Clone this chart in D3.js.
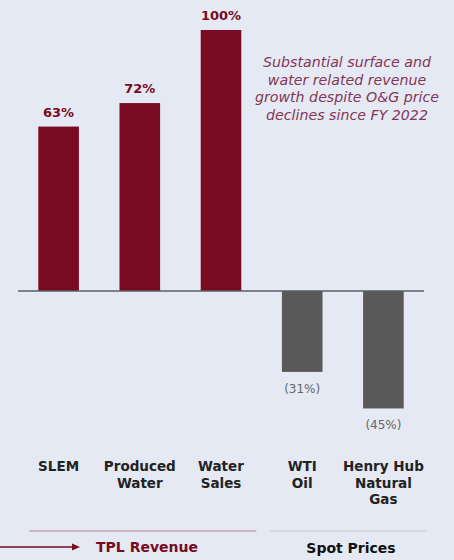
<!DOCTYPE html>
<html><head><meta charset="utf-8">
<script src="https://cdn.jsdelivr.net/npm/d3@7"></script>
<style>
html,body{margin:0;padding:0;background:#e4e9f3;}
svg{display:block;}
</style></head>
<body>
<script>
const categories = [["SLEM"],["Produced","Water"],["Water","Sales"],["WTI","Oil"],["Henry Hub","Natural","Gas"]];
const values = [63, 72, 100, -31, -45];
const valueLabels = ["63%","72%","100%","(31%)","(45%)"];
const groupNames = ["TPL Revenue","Spot Prices"];
const groupOf = [0,0,0,1,1];
const note = ["Substantial surface and","water related revenue","growth despite O&G price","declines since FY 2022"];

const W = 454, H = 560;
const red = "#780a22", grey = "#595959";
const font = "'DejaVu Sans', sans-serif";
const svg = d3.select("body").append("svg").attr("width", W).attr("height", H);
svg.append("rect").attr("width", W).attr("height", H).attr("fill", "#e4e9f3");

const x = d3.scaleBand().domain(d3.range(values.length)).range([18, 424]).paddingInner(0.5).paddingOuter(0.25);
const y = d3.scaleLinear().domain([0, 100]).range([291, 30]);

svg.selectAll("rect.bar").data(values).join("rect").attr("class","bar")
  .attr("x", (d,i) => x(i))
  .attr("width", x.bandwidth())
  .attr("y", d => Math.min(y(d), y(0)))
  .attr("height", d => Math.abs(y(d) - y(0)))
  .attr("fill", (d,i) => groupOf[i] === 0 ? red : grey);

// axis line
svg.append("line").attr("x1", 18).attr("x2", 424).attr("y1", y(0)).attr("y2", y(0))
  .attr("stroke", "#5a5f66").attr("stroke-width", 1.5);

// value labels
svg.selectAll("text.val").data(values).join("text").attr("class","val")
  .attr("x", (d,i) => x(i) + x.bandwidth()/2)
  .attr("y", d => d >= 0 ? y(d) - 10 : y(d) + 21)
  .attr("text-anchor", "middle")
  .attr("font-family", font)
  .attr("font-size", d => d >= 0 ? 13 : 12)
  .attr("font-weight", d => d >= 0 ? "bold" : "normal")
  .attr("fill", d => d >= 0 ? red : "#666")
  .text((d,i) => valueLabels[i]);

// category labels
const cat = svg.selectAll("text.cat").data(categories).join("text").attr("class","cat")
  .attr("text-anchor", "middle")
  .attr("font-family", font).attr("font-size", 13.5).attr("font-weight", "bold").attr("fill", "#222");
cat.each(function(lines, i) {
  d3.select(this).selectAll("tspan").data(lines).join("tspan")
    .attr("x", x(i) + x.bandwidth()/2)
    .attr("y", (l, j) => 471 + j * 16.5)
    .text(l => l);
});

// group lines and labels
const groupLines = [
  {x1: x(0) - 9, x2: x(2) + x.bandwidth() + 15, color: "#c7a4ad"},
  {x1: x(3) - 12, x2: x(4) + x.bandwidth() + 23, color: "#cfd2d8"}
];
groupLines.forEach(g => {
  svg.append("line").attr("x1", g.x1).attr("x2", g.x2).attr("y1", 531).attr("y2", 531)
    .attr("stroke", g.color).attr("stroke-width", 1.5);
});
svg.append("text").attr("x", 147).attr("y", 552).attr("text-anchor","middle")
  .attr("font-family", font).attr("font-size", 14).attr("font-weight","bold").attr("fill", red).text(groupNames[0]);
svg.append("text").attr("x", 351).attr("y", 553).attr("text-anchor","middle")
  .attr("font-family", font).attr("font-size", 14).attr("font-weight","bold").attr("fill", "#111").text(groupNames[1]);

// arrow
svg.append("line").attr("x1", 0).attr("x2", 74).attr("y1", 547).attr("y2", 547).attr("stroke", red).attr("stroke-width", 1.3);
svg.append("path").attr("d", "M72,543.5 L80,547 L72,550.5 Z").attr("fill", red);

// note
svg.append("text").attr("text-anchor","middle")
  .attr("font-family", font).attr("font-size", 14.2).attr("font-style","italic").attr("fill", "#843657")
  .selectAll("tspan").data(note).join("tspan")
  .attr("x", 347).attr("y", (d,i) => 67 + i * 17.5).text(d => d);
</script>
</body></html>
